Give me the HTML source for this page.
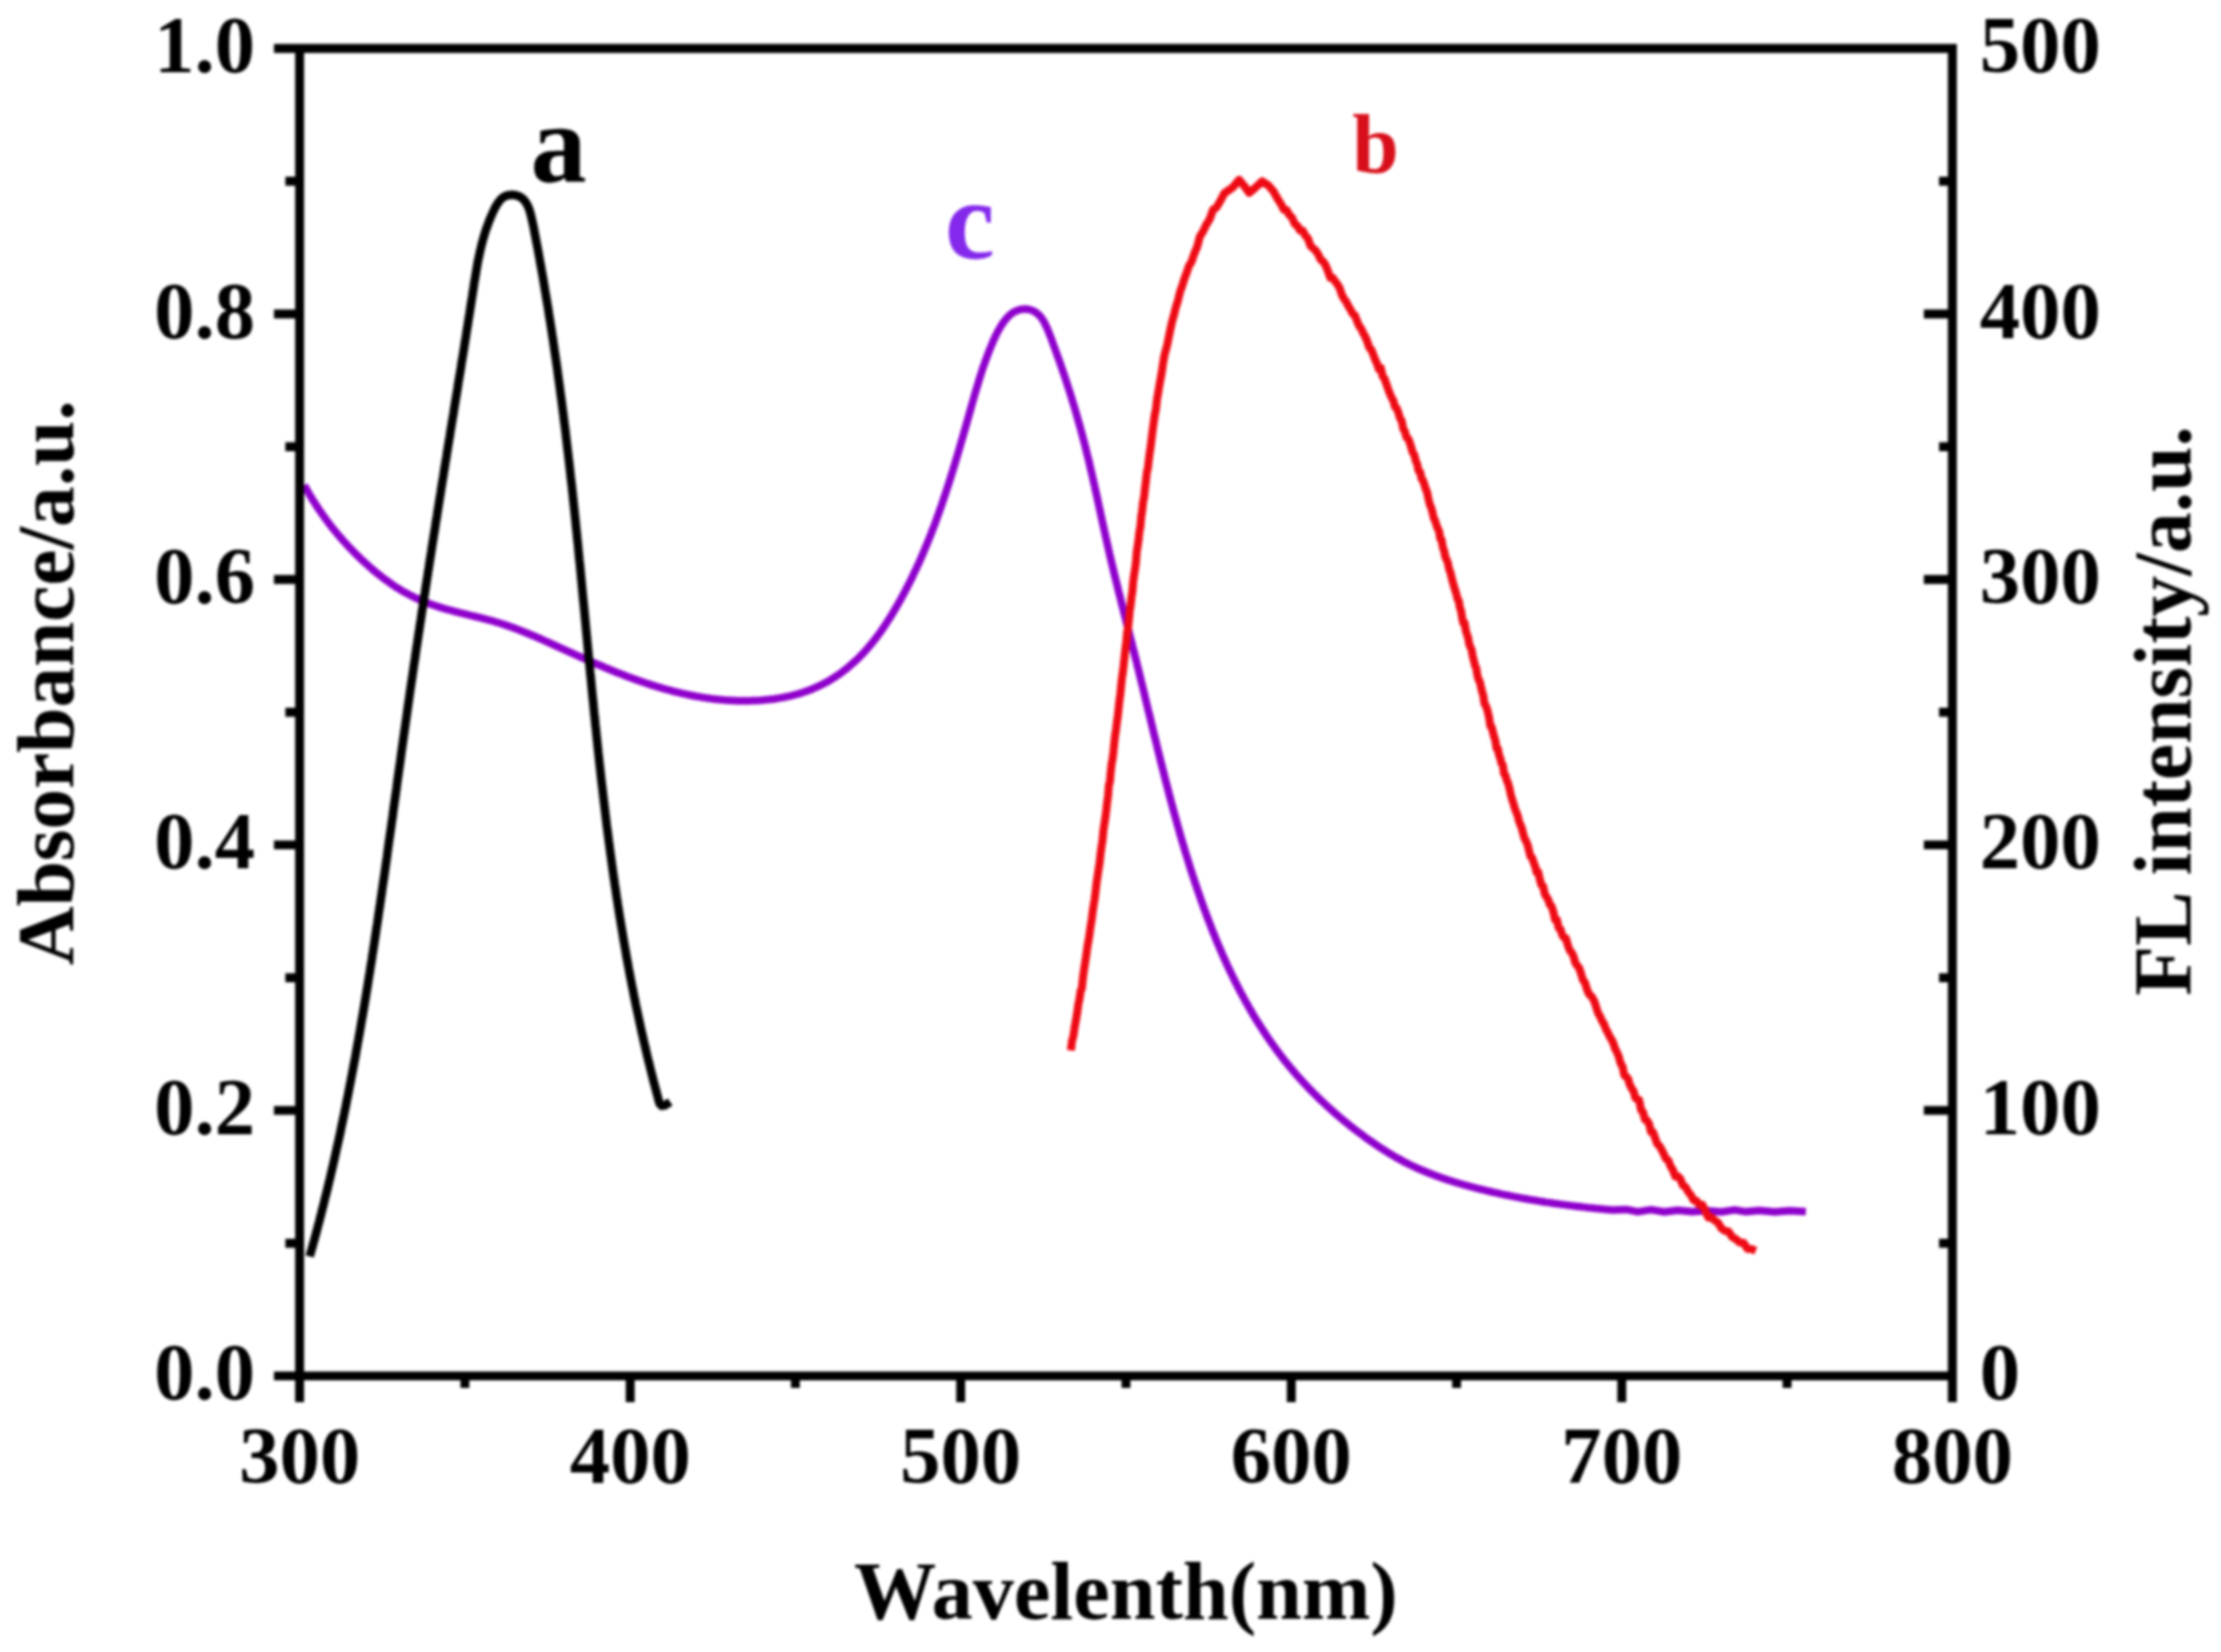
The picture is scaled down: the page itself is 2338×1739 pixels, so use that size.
<!DOCTYPE html>
<html lang="en">
<head>
<meta charset="utf-8">
<title>Absorbance and FL intensity spectra</title>
<style>
html,body{margin:0;padding:0;background:#fff;}
body{width:2338px;height:1739px;overflow:hidden;}
svg text{font-kerning:normal;}
</style>
</head>
<body>
<svg width="2338" height="1739" viewBox="0 0 2338 1739" style="display:block;filter:blur(1.6px)">
<rect width="2338" height="1739" fill="#fff"/>
<g id="plot">
<path d="M320.3,510.8 L321.6,513.0 L322.8,515.3 L324.1,517.6 L325.4,519.8 L326.7,522.0 L328.1,524.3 L329.4,526.5 L330.8,528.7 L332.2,530.8 L333.6,533.0 L335.0,535.2 L336.4,537.3 L337.9,539.4 L339.4,541.5 L340.9,543.7 L342.4,545.7 L343.9,547.8 L345.5,549.9 L347.0,551.9 L348.6,554.0 L350.2,556.0 L351.8,558.0 L353.5,560.0 L355.1,562.0 L356.8,564.0 L358.5,565.9 L360.2,567.9 L361.9,569.8 L363.6,571.7 L365.3,573.6 L367.1,575.5 L368.9,577.4 L370.7,579.2 L372.5,581.1 L374.3,582.9 L376.1,584.7 L378.0,586.5 L379.9,588.3 L381.7,590.1 L383.6,591.8 L385.6,593.6 L387.5,595.3 L389.4,597.0 L391.4,598.7 L393.3,600.4 L395.3,602.1 L397.3,603.7 L399.4,605.3 L401.4,606.9 L403.4,608.5 L405.5,610.1 L407.6,611.6 L409.7,613.1 L411.8,614.6 L413.9,616.1 L416.1,617.5 L418.3,618.9 L420.4,620.2 L422.7,621.6 L424.9,622.9 L427.1,624.1 L429.4,625.3 L431.7,626.5 L434.0,627.7 L436.3,628.8 L438.6,629.9 L441.0,631.0 L443.3,632.0 L445.7,633.0 L448.1,633.9 L450.5,634.9 L452.9,635.8 L455.3,636.7 L457.8,637.5 L460.2,638.3 L462.7,639.1 L465.1,639.9 L467.6,640.6 L470.1,641.3 L472.6,642.0 L475.1,642.7 L477.6,643.4 L480.1,644.0 L482.6,644.7 L485.1,645.3 L487.6,645.9 L490.2,646.5 L492.7,647.2 L495.2,647.8 L497.7,648.4 L500.2,649.0 L502.7,649.6 L505.3,650.2 L507.8,650.9 L510.3,651.5 L512.8,652.2 L515.3,652.8 L517.8,653.5 L520.2,654.2 L522.7,655.0 L525.2,655.7 L527.7,656.5 L530.1,657.3 L532.5,658.1 L535.0,658.9 L537.4,659.8 L539.8,660.6 L542.2,661.5 L544.7,662.4 L547.1,663.4 L549.5,664.3 L551.8,665.3 L554.2,666.2 L556.6,667.2 L559.0,668.2 L561.4,669.2 L563.7,670.2 L566.1,671.3 L568.5,672.3 L570.8,673.3 L573.2,674.4 L575.5,675.5 L577.9,676.5 L580.3,677.6 L582.6,678.7 L585.0,679.7 L587.3,680.8 L589.7,681.9 L592.0,683.0 L594.4,684.0 L596.7,685.1 L599.1,686.2 L601.5,687.2 L603.8,688.3 L606.2,689.4 L608.5,690.4 L610.9,691.5 L613.3,692.5 L615.6,693.6 L618.0,694.6 L620.4,695.7 L622.8,696.7 L625.1,697.8 L627.5,698.8 L629.9,699.8 L632.3,700.8 L634.7,701.8 L637.0,702.8 L639.4,703.8 L641.8,704.8 L644.2,705.8 L646.6,706.8 L649.0,707.7 L651.4,708.7 L653.8,709.6 L656.2,710.5 L658.7,711.5 L661.1,712.4 L663.5,713.3 L665.9,714.2 L668.3,715.1 L670.8,715.9 L673.2,716.8 L675.6,717.6 L678.1,718.5 L680.5,719.3 L683.0,720.1 L685.4,720.9 L687.9,721.7 L690.3,722.4 L692.8,723.2 L695.3,723.9 L697.7,724.6 L700.2,725.3 L702.7,726.0 L705.2,726.7 L707.7,727.4 L710.1,728.0 L712.6,728.6 L715.1,729.2 L717.7,729.8 L720.2,730.4 L722.7,730.9 L725.2,731.5 L727.7,732.0 L730.3,732.5 L732.8,733.0 L735.3,733.4 L737.9,733.8 L740.4,734.3 L743.0,734.6 L745.5,735.0 L748.1,735.4 L750.7,735.7 L753.2,736.0 L755.8,736.3 L758.4,736.5 L761.0,736.8 L763.5,737.0 L766.1,737.2 L768.7,737.3 L771.3,737.5 L773.9,737.6 L776.5,737.7 L779.1,737.7 L781.7,737.8 L784.2,737.8 L786.8,737.8 L789.4,737.7 L792.0,737.6 L794.6,737.5 L797.2,737.4 L799.8,737.3 L802.4,737.1 L805.0,736.8 L807.6,736.6 L810.2,736.3 L812.7,736.0 L815.3,735.7 L817.9,735.3 L820.4,734.9 L823.0,734.4 L825.5,734.0 L828.1,733.4 L830.6,732.9 L833.1,732.3 L835.6,731.7 L838.1,731.0 L840.6,730.3 L843.1,729.6 L845.5,728.8 L847.9,727.9 L850.4,727.1 L852.8,726.2 L855.2,725.2 L857.5,724.2 L859.9,723.2 L862.2,722.1 L864.5,721.0 L866.8,719.8 L869.1,718.6 L871.3,717.4 L873.6,716.1 L875.8,714.7 L878.0,713.3 L880.1,711.9 L882.3,710.5 L884.4,709.0 L886.5,707.5 L888.5,705.9 L890.6,704.3 L892.6,702.7 L894.5,701.0 L896.5,699.3 L898.4,697.6 L900.3,695.9 L902.2,694.1 L904.1,692.3 L905.9,690.4 L907.7,688.6 L909.5,686.7 L911.2,684.8 L912.9,682.9 L914.6,680.9 L916.3,678.9 L917.9,677.0 L919.5,674.9 L921.1,672.9 L922.7,670.9 L924.2,668.8 L925.8,666.7 L927.3,664.6 L928.8,662.5 L930.2,660.3 L931.7,658.2 L933.1,656.0 L934.5,653.9 L935.9,651.7 L937.3,649.5 L938.6,647.3 L940.0,645.1 L941.3,642.8 L942.6,640.6 L943.9,638.4 L945.2,636.1 L946.5,633.9 L947.8,631.6 L949.0,629.3 L950.2,627.1 L951.5,624.8 L952.7,622.5 L953.9,620.2 L955.1,617.9 L956.2,615.6 L957.4,613.3 L958.6,611.0 L959.7,608.7 L960.8,606.4 L961.9,604.1 L963.0,601.7 L964.1,599.4 L965.2,597.1 L966.3,594.7 L967.4,592.4 L968.4,590.0 L969.5,587.6 L970.5,585.3 L971.5,582.9 L972.5,580.5 L973.5,578.2 L974.5,575.8 L975.5,573.4 L976.5,571.0 L977.4,568.6 L978.4,566.2 L979.4,563.8 L980.3,561.4 L981.2,559.0 L982.1,556.6 L983.1,554.2 L984.0,551.8 L984.9,549.3 L985.8,546.9 L986.6,544.5 L987.5,542.1 L988.4,539.6 L989.3,537.2 L990.1,534.7 L991.0,532.3 L991.8,529.9 L992.6,527.4 L993.5,525.0 L994.3,522.5 L995.1,520.1 L995.9,517.6 L996.7,515.1 L997.5,512.7 L998.3,510.2 L999.1,507.8 L999.9,505.3 L1000.7,502.8 L1001.4,500.3 L1002.2,497.9 L1003.0,495.4 L1003.7,492.9 L1004.5,490.5 L1005.2,488.0 L1006.0,485.5 L1006.7,483.0 L1007.5,480.5 L1008.2,478.1 L1008.9,475.6 L1009.7,473.1 L1010.4,470.6 L1011.1,468.1 L1011.8,465.7 L1012.5,463.2 L1013.3,460.7 L1014.0,458.2 L1014.7,455.7 L1015.4,453.2 L1016.1,450.8 L1016.8,448.3 L1017.5,445.8 L1018.2,443.3 L1018.9,440.8 L1019.6,438.3 L1020.3,435.9 L1021.0,433.4 L1021.7,430.9 L1022.4,428.4 L1023.1,425.9 L1023.8,423.5 L1024.5,421.0 L1025.2,418.5 L1025.9,416.0 L1026.6,413.6 L1027.3,411.1 L1028.1,408.6 L1028.8,406.2 L1029.6,403.7 L1030.3,401.2 L1031.1,398.8 L1031.8,396.3 L1032.6,393.9 L1033.4,391.4 L1034.2,389.0 L1035.0,386.5 L1035.9,384.1 L1036.7,381.7 L1037.6,379.2 L1038.5,376.8 L1039.4,374.4 L1040.3,372.0 L1041.2,369.5 L1042.2,367.1 L1043.2,364.7 L1044.2,362.3 L1045.2,359.9 L1046.2,357.5 L1047.3,355.2 L1048.4,352.8 L1049.6,350.5 L1050.8,348.2 L1052.1,345.9 L1053.4,343.7 L1054.8,341.5 L1056.3,339.3 L1057.9,337.2 L1059.5,335.2 L1061.3,333.3 L1063.2,331.5 L1065.2,329.8 L1067.4,328.4 L1069.7,327.3 L1072.2,326.4 L1074.7,325.7 L1077.2,325.4 L1079.7,325.3 L1082.2,325.6 L1084.7,326.2 L1087.0,327.0 L1089.2,328.1 L1091.1,329.4 L1093.0,330.9 L1094.6,332.6 L1096.2,334.5 L1097.6,336.5 L1098.9,338.6 L1100.1,340.9 L1101.2,343.2 L1102.3,345.6 L1103.3,348.0 L1104.3,350.5 L1105.3,353.0 L1106.2,355.5 L1107.2,358.0 L1108.1,360.5 L1109.0,363.0 L1109.9,365.5 L1110.8,368.0 L1111.7,370.5 L1112.6,372.9 L1113.5,375.4 L1114.4,377.9 L1115.3,380.3 L1116.2,382.8 L1117.0,385.3 L1117.9,387.7 L1118.7,390.2 L1119.5,392.7 L1120.4,395.1 L1121.2,397.6 L1122.0,400.0 L1122.8,402.5 L1123.6,405.0 L1124.4,407.4 L1125.2,409.9 L1126.0,412.3 L1126.8,414.8 L1127.5,417.2 L1128.3,419.7 L1129.0,422.1 L1129.8,424.6 L1130.5,427.0 L1131.3,429.5 L1132.0,432.0 L1132.7,434.4 L1133.4,436.9 L1134.1,439.3 L1134.8,441.8 L1135.5,444.3 L1136.2,446.7 L1136.9,449.2 L1137.6,451.7 L1138.2,454.1 L1138.9,456.6 L1139.6,459.1 L1140.2,461.5 L1140.9,464.0 L1141.5,466.5 L1142.2,469.0 L1142.8,471.5 L1143.4,474.0 L1144.0,476.5 L1144.6,479.0 L1145.3,481.5 L1145.9,484.0 L1146.5,486.5 L1147.1,489.0 L1147.6,491.5 L1148.2,494.0 L1148.8,496.5 L1149.4,499.0 L1150.0,501.6 L1150.6,504.1 L1151.1,506.6 L1151.7,509.1 L1152.3,511.7 L1152.8,514.2 L1153.4,516.7 L1153.9,519.3 L1154.5,521.8 L1155.1,524.3 L1155.6,526.9 L1156.2,529.4 L1156.7,531.9 L1157.3,534.5 L1157.8,537.0 L1158.4,539.5 L1158.9,542.1 L1159.5,544.6 L1160.0,547.1 L1160.6,549.7 L1161.1,552.2 L1161.7,554.8 L1162.3,557.3 L1162.8,559.8 L1163.4,562.4 L1163.9,564.9 L1164.5,567.4 L1165.1,570.0 L1165.6,572.5 L1166.2,575.0 L1166.8,577.6 L1167.4,580.1 L1167.9,582.6 L1168.5,585.1 L1169.1,587.7 L1169.7,590.2 L1170.3,592.7 L1170.9,595.2 L1171.5,597.7 L1172.1,600.2 L1172.7,602.8 L1173.3,605.3 L1173.9,607.8 L1174.5,610.3 L1175.2,612.8 L1175.8,615.3 L1176.4,617.8 L1177.0,620.3 L1177.6,622.8 L1178.3,625.3 L1178.9,627.8 L1179.5,630.3 L1180.2,632.8 L1180.8,635.3 L1181.4,637.8 L1182.1,640.3 L1182.7,642.8 L1183.3,645.3 L1184.0,647.8 L1184.6,650.3 L1185.2,652.8 L1185.9,655.3 L1186.5,657.8 L1187.1,660.3 L1187.8,662.8 L1188.4,665.3 L1189.0,667.8 L1189.7,670.3 L1190.3,672.8 L1191.0,675.3 L1191.6,677.8 L1192.2,680.3 L1192.8,682.8 L1193.5,685.3 L1194.1,687.8 L1194.7,690.3 L1195.4,692.8 L1196.0,695.3 L1196.6,697.8 L1197.2,700.3 L1197.9,702.8 L1198.5,705.3 L1199.1,707.8 L1199.7,710.3 L1200.3,712.8 L1200.9,715.3 L1201.5,717.8 L1202.2,720.4 L1202.8,722.9 L1203.4,725.4 L1204.0,727.9 L1204.6,730.4 L1205.2,732.9 L1205.8,735.4 L1206.4,737.9 L1207.0,740.4 L1207.6,742.9 L1208.2,745.5 L1208.8,748.0 L1209.5,750.5 L1210.1,753.0 L1210.7,755.5 L1211.3,758.0 L1211.9,760.5 L1212.5,763.0 L1213.1,765.5 L1213.7,768.1 L1214.3,770.6 L1214.9,773.1 L1215.5,775.6 L1216.2,778.1 L1216.8,780.6 L1217.4,783.1 L1218.0,785.6 L1218.6,788.1 L1219.2,790.6 L1219.8,793.2 L1220.5,795.7 L1221.1,798.2 L1221.7,800.7 L1222.3,803.2 L1223.0,805.7 L1223.6,808.2 L1224.2,810.7 L1224.9,813.2 L1225.5,815.7 L1226.1,818.2 L1226.8,820.7 L1227.4,823.2 L1228.1,825.7 L1228.7,828.2 L1229.4,830.7 L1230.0,833.2 L1230.7,835.7 L1231.3,838.2 L1232.0,840.7 L1232.6,843.2 L1233.3,845.7 L1234.0,848.2 L1234.7,850.7 L1235.3,853.2 L1236.0,855.7 L1236.7,858.2 L1237.4,860.7 L1238.1,863.2 L1238.8,865.7 L1239.5,868.2 L1240.2,870.7 L1240.9,873.1 L1241.6,875.6 L1242.3,878.1 L1243.0,880.6 L1243.7,883.1 L1244.4,885.5 L1245.2,888.0 L1245.9,890.5 L1246.7,893.0 L1247.4,895.5 L1248.1,897.9 L1248.9,900.4 L1249.7,902.9 L1250.4,905.3 L1251.2,907.8 L1252.0,910.3 L1252.7,912.7 L1253.5,915.2 L1254.3,917.7 L1255.1,920.1 L1255.9,922.6 L1256.7,925.0 L1257.5,927.5 L1258.3,929.9 L1259.2,932.4 L1260.0,934.8 L1260.8,937.3 L1261.7,939.7 L1262.5,942.2 L1263.4,944.6 L1264.2,947.1 L1265.1,949.5 L1265.9,951.9 L1266.8,954.4 L1267.7,956.8 L1268.6,959.2 L1269.5,961.6 L1270.4,964.1 L1271.3,966.5 L1272.2,968.9 L1273.2,971.3 L1274.1,973.7 L1275.0,976.2 L1276.0,978.6 L1276.9,981.0 L1277.9,983.4 L1278.9,985.8 L1279.8,988.2 L1280.8,990.6 L1281.8,992.9 L1282.8,995.3 L1283.8,997.7 L1284.9,1000.1 L1285.9,1002.5 L1286.9,1004.8 L1288.0,1007.2 L1289.0,1009.6 L1290.1,1011.9 L1291.2,1014.3 L1292.2,1016.6 L1293.3,1019.0 L1294.4,1021.3 L1295.5,1023.6 L1296.7,1026.0 L1297.8,1028.3 L1298.9,1030.6 L1300.1,1032.9 L1301.2,1035.2 L1302.4,1037.5 L1303.6,1039.8 L1304.8,1042.1 L1305.9,1044.4 L1307.2,1046.7 L1308.4,1048.9 L1309.6,1051.2 L1310.8,1053.4 L1312.1,1055.7 L1313.4,1057.9 L1314.6,1060.2 L1315.9,1062.4 L1317.2,1064.6 L1318.5,1066.9 L1319.8,1069.1 L1321.1,1071.3 L1322.5,1073.5 L1323.8,1075.7 L1325.2,1077.8 L1326.6,1080.0 L1328.0,1082.2 L1329.4,1084.3 L1330.8,1086.5 L1332.2,1088.6 L1333.6,1090.8 L1335.1,1092.9 L1336.5,1095.0 L1338.0,1097.1 L1339.5,1099.2 L1341.0,1101.3 L1342.5,1103.4 L1344.0,1105.5 L1345.6,1107.6 L1347.1,1109.6 L1348.7,1111.7 L1350.2,1113.7 L1351.8,1115.7 L1353.4,1117.7 L1355.1,1119.8 L1356.7,1121.8 L1358.3,1123.8 L1360.0,1125.7 L1361.7,1127.7 L1363.3,1129.7 L1365.0,1131.6 L1366.8,1133.6 L1368.5,1135.5 L1370.2,1137.4 L1372.0,1139.3 L1373.7,1141.2 L1375.5,1143.1 L1377.3,1145.0 L1379.1,1146.9 L1380.9,1148.7 L1382.7,1150.6 L1384.6,1152.4 L1386.4,1154.2 L1388.3,1156.1 L1390.1,1157.9 L1392.0,1159.6 L1393.9,1161.4 L1395.8,1163.2 L1397.7,1165.0 L1399.7,1166.7 L1401.6,1168.4 L1403.5,1170.2 L1405.5,1171.9 L1407.4,1173.6 L1409.4,1175.3 L1411.4,1177.0 L1413.4,1178.6 L1415.4,1180.3 L1417.4,1181.9 L1419.4,1183.5 L1421.4,1185.2 L1423.5,1186.8 L1425.5,1188.4 L1427.6,1189.9 L1429.6,1191.5 L1431.7,1193.1 L1433.8,1194.6 L1435.8,1196.1 L1437.9,1197.7 L1440.0,1199.2 L1442.1,1200.7 L1444.2,1202.1 L1446.3,1203.6 L1448.5,1205.1 L1450.6,1206.5 L1452.7,1207.9 L1454.9,1209.3 L1457.1,1210.7 L1459.2,1212.1 L1461.4,1213.4 L1463.6,1214.8 L1465.8,1216.1 L1468.0,1217.4 L1470.2,1218.7 L1472.5,1219.9 L1474.7,1221.1 L1477.0,1222.4 L1479.2,1223.6 L1481.5,1224.7 L1483.8,1225.9 L1486.1,1227.0 L1488.5,1228.1 L1490.8,1229.2 L1493.2,1230.2 L1495.5,1231.3 L1497.9,1232.3 L1500.3,1233.3 L1502.7,1234.2 L1505.1,1235.2 L1507.5,1236.1 L1509.9,1237.1 L1512.3,1238.0 L1514.8,1238.8 L1517.2,1239.7 L1519.7,1240.5 L1522.1,1241.4 L1524.6,1242.2 L1527.1,1243.0 L1529.5,1243.8 L1532.0,1244.5 L1534.5,1245.3 L1537.0,1246.0 L1539.5,1246.8 L1542.0,1247.5 L1544.5,1248.2 L1547.0,1248.8 L1549.5,1249.5 L1552.0,1250.2 L1554.6,1250.8 L1557.1,1251.5 L1559.6,1252.1 L1562.1,1252.7 L1564.6,1253.3 L1567.2,1253.9 L1569.7,1254.5 L1572.2,1255.1 L1574.7,1255.6 L1577.3,1256.2 L1579.8,1256.8 L1582.3,1257.3 L1584.8,1257.8 L1587.4,1258.3 L1589.9,1258.9 L1592.4,1259.4 L1594.9,1259.9 L1597.5,1260.3 L1600.0,1260.8 L1602.5,1261.3 L1605.1,1261.8 L1607.6,1262.2 L1610.1,1262.7 L1612.7,1263.1 L1615.2,1263.5 L1617.8,1263.9 L1620.3,1264.4 L1622.8,1264.8 L1625.4,1265.2 L1627.9,1265.6 L1630.5,1265.9 L1633.0,1266.3 L1635.6,1266.7 L1638.1,1267.0 L1640.7,1267.4 L1643.2,1267.7 L1645.8,1268.1 L1648.3,1268.4 L1650.9,1268.8 L1653.4,1269.1 L1656.0,1269.4 L1658.6,1269.7 L1661.1,1270.0 L1663.7,1270.3 L1666.3,1270.6 L1668.8,1270.9 L1671.4,1271.2 L1674.0,1271.4 L1676.6,1271.7 L1679.1,1272.0 L1681.7,1272.2 L1684.3,1272.5 L1686.9,1272.7 L1689.5,1273.0 L1692.1,1273.2 L1694.7,1273.4 L1697.3,1273.7 L1712.0,1273.2 L1724.0,1275.6 L1738.0,1273.4 L1752.0,1275.8 L1766.0,1274.0 L1781.0,1275.4 L1797.0,1274.6 L1812.0,1275.8 L1826.0,1273.6 L1838.0,1275.6 L1852.0,1274.2 L1868.0,1275.8 L1884.0,1274.4 L1901.0,1275.4" fill="none" stroke="#8f00cc" stroke-width="8" stroke-linejoin="round" stroke-linecap="butt"/>
<path d="M1127.3,1105.7 L1128.6,1095.0 L1129.9,1090.9 L1131.2,1082.0 L1132.5,1074.5 L1133.8,1067.1 L1135.1,1057.3 L1136.3,1051.8 L1137.5,1043.4 L1138.8,1040.7 L1140.0,1029.4 L1141.1,1021.0 L1142.3,1013.4 L1143.5,1005.3 L1144.6,997.2 L1145.8,990.3 L1146.9,983.7 L1148.0,975.2 L1149.1,968.9 L1150.2,959.9 L1151.3,952.5 L1152.3,946.6 L1153.4,937.8 L1154.4,928.8 L1155.5,921.6 L1156.5,914.8 L1157.5,908.8 L1158.6,898.4 L1159.6,890.8 L1160.6,884.6 L1161.5,874.7 L1162.5,867.7 L1163.5,861.5 L1164.5,853.4 L1165.4,845.2 L1166.4,838.2 L1167.3,826.3 L1168.3,823.3 L1169.2,813.2 L1170.1,804.7 L1171.1,799.3 L1172.0,792.2 L1172.9,783.1 L1173.8,774.7 L1174.8,768.3 L1175.7,760.5 L1176.6,754.6 L1177.5,746.1 L1178.4,737.8 L1179.3,731.2 L1180.2,721.9 L1181.1,713.4 L1182.0,707.5 L1182.9,699.8 L1183.8,691.2 L1184.7,682.8 L1185.6,676.3 L1186.5,665.4 L1187.4,661.5 L1188.3,653.6 L1189.2,643.3 L1190.1,637.7 L1191.1,628.7 L1192.0,623.1 L1192.9,612.0 L1193.8,605.7 L1194.7,599.9 L1195.7,592.8 L1196.6,581.1 L1197.5,575.4 L1198.5,568.7 L1199.4,559.9 L1200.4,554.8 L1201.4,543.7 L1202.3,537.9 L1203.3,528.5 L1204.3,523.7 L1205.3,514.3 L1206.3,506.2 L1207.3,496.9 L1208.3,493.2 L1209.3,484.4 L1210.3,476.7 L1211.4,469.4 L1212.4,460.8 L1213.5,451.9 L1214.6,443.9 L1215.7,436.2 L1216.8,431.1 L1218.0,420.0 L1219.2,413.4 L1220.4,406.1 L1221.7,399.0 L1223.0,391.8 L1224.4,382.0 L1225.8,373.8 L1227.3,368.3 L1228.9,362.2 L1230.5,354.1 L1232.2,345.9 L1234.0,337.8 L1235.9,331.1 L1237.9,323.0 L1239.9,316.9 L1242.1,307.6 L1244.3,301.4 L1246.7,293.8 L1249.1,287.3 L1251.7,279.7 L1254.4,275.4 L1257.2,267.0 L1260.2,259.9 L1263.2,248.7 L1266.4,243.7 L1269.8,236.5 L1273.3,231.0 L1276.9,220.8 L1280.7,218.2 L1284.7,211.4 L1288.8,203.5 L1298.0,197.0 L1304.4,189.3 L1310.0,196.0 L1315.0,203.0 L1321.0,198.0 L1328.6,190.9 L1335.0,195.0 L1340.7,201.5 L1342.4,204.9 L1345.4,210.0 L1348.4,214.7 L1351.4,220.7 L1354.3,220.9 L1357.2,226.3 L1360.1,229.1 L1362.9,235.6 L1365.8,237.8 L1368.6,242.7 L1371.3,242.7 L1374.1,248.0 L1376.8,251.0 L1379.5,258.7 L1382.2,261.3 L1384.9,263.7 L1387.5,267.5 L1390.1,273.0 L1392.7,275.2 L1395.2,278.9 L1397.8,285.2 L1400.3,292.5 L1402.7,292.2 L1405.2,295.8 L1407.6,299.0 L1410.1,302.9 L1412.4,310.0 L1414.8,314.7 L1417.1,317.6 L1419.5,322.3 L1421.8,326.1 L1424.0,330.4 L1426.3,332.0 L1428.5,337.9 L1430.7,343.1 L1432.9,345.9 L1435.1,350.7 L1437.2,354.5 L1439.3,359.5 L1441.4,365.8 L1443.5,368.1 L1445.5,372.8 L1447.6,378.7 L1449.6,382.8 L1451.6,388.8 L1453.5,387.1 L1455.5,396.2 L1457.4,398.5 L1459.3,403.9 L1461.2,409.4 L1463.0,414.2 L1464.9,418.6 L1466.7,421.6 L1468.5,428.3 L1470.3,429.8 L1472.0,434.4 L1473.8,440.4 L1475.5,442.7 L1477.2,451.5 L1478.9,454.2 L1480.6,460.5 L1482.2,461.5 L1483.9,465.4 L1485.5,470.8 L1487.1,476.2 L1488.7,478.6 L1490.2,484.6 L1491.8,488.5 L1493.3,495.7 L1494.9,496.6 L1496.4,503.8 L1497.9,505.7 L1499.3,509.7 L1500.8,514.7 L1502.3,518.4 L1503.7,525.1 L1505.1,531.1 L1506.6,534.3 L1508.0,539.6 L1509.4,545.8 L1510.8,548.2 L1512.1,552.7 L1513.5,556.5 L1514.9,559.0 L1516.2,567.4 L1517.5,567.9 L1518.9,576.4 L1520.2,579.9 L1521.5,586.4 L1522.8,589.1 L1524.1,592.5 L1525.4,599.0 L1526.7,602.1 L1528.0,607.4 L1529.2,612.4 L1530.5,616.7 L1531.8,621.3 L1533.0,624.9 L1534.3,630.5 L1535.5,632.0 L1536.8,639.8 L1538.0,642.8 L1539.3,651.2 L1540.5,656.1 L1541.7,655.5 L1543.0,663.5 L1544.2,667.8 L1545.4,670.9 L1546.6,678.1 L1547.9,681.2 L1549.1,683.7 L1550.3,690.8 L1551.5,695.6 L1552.8,700.7 L1554.0,703.2 L1555.2,710.8 L1556.5,715.6 L1557.7,717.3 L1558.9,722.7 L1560.2,728.3 L1561.4,732.1 L1562.6,740.5 L1563.9,742.7 L1565.1,745.4 L1566.4,750.4 L1567.7,756.2 L1568.9,764.6 L1570.2,765.3 L1571.5,770.4 L1572.8,775.7 L1574.1,779.4 L1575.4,787.8 L1576.7,787.9 L1578.0,794.6 L1579.3,798.2 L1580.6,803.6 L1582.0,805.3 L1583.3,814.7 L1584.7,816.2 L1586.0,821.1 L1587.4,824.1 L1588.8,829.1 L1590.2,835.7 L1591.6,841.0 L1593.0,845.2 L1594.5,850.5 L1595.9,854.3 L1597.4,857.8 L1598.8,863.6 L1600.3,867.8 L1601.8,871.2 L1603.3,877.1 L1604.8,882.5 L1606.4,885.4 L1607.9,888.9 L1609.5,895.2 L1611.1,901.6 L1612.7,902.7 L1614.3,907.4 L1616.0,911.8 L1617.6,918.5 L1619.3,918.0 L1621.0,926.0 L1622.7,931.8 L1624.4,933.0 L1626.2,941.2 L1627.9,944.1 L1629.7,946.8 L1631.5,952.4 L1633.3,954.0 L1635.2,959.9 L1637.0,968.2 L1638.9,968.2 L1640.8,976.9 L1642.7,978.2 L1644.6,984.3 L1646.5,987.1 L1648.5,987.8 L1650.4,994.9 L1652.4,1000.4 L1654.4,1002.6 L1656.4,1006.7 L1658.4,1013.8 L1660.4,1016.5 L1662.4,1019.1 L1664.4,1025.1 L1666.4,1031.9 L1668.4,1034.1 L1670.4,1040.7 L1672.4,1046.0 L1674.4,1048.0 L1676.5,1050.5 L1678.5,1054.6 L1680.5,1061.0 L1682.5,1066.8 L1684.5,1070.2 L1686.5,1075.0 L1688.5,1077.8 L1690.5,1083.4 L1692.4,1086.6 L1694.4,1091.2 L1696.4,1094.1 L1698.3,1098.1 L1700.3,1104.3 L1702.2,1107.7 L1704.1,1112.4 L1706.0,1119.5 L1708.0,1122.7 L1709.9,1132.0 L1711.8,1133.3 L1713.7,1135.3 L1715.7,1142.0 L1717.6,1145.7 L1719.6,1148.5 L1721.6,1155.8 L1723.5,1157.2 L1725.5,1158.0 L1727.6,1168.6 L1729.6,1170.7 L1731.6,1178.4 L1733.7,1179.4 L1735.8,1182.8 L1738.0,1191.5 L1740.1,1191.6 L1742.3,1197.9 L1744.5,1204.2 L1746.8,1206.2 L1749.1,1210.1 L1751.4,1214.6 L1753.7,1219.9 L1756.1,1221.3 L1758.6,1227.7 L1761.1,1231.7 L1763.6,1238.5 L1766.2,1238.1 L1768.9,1241.1 L1771.5,1247.6 L1774.3,1249.7 L1777.1,1254.5 L1779.9,1258.0 L1782.9,1263.4 L1785.8,1264.1 L1788.9,1268.6 L1792.0,1268.2 L1795.1,1274.4 L1798.4,1281.7 L1801.7,1281.5 L1805.1,1284.7 L1808.6,1287.1 L1812.2,1293.1 L1815.8,1295.6 L1819.5,1296.4 L1823.4,1302.2 L1827.3,1304.4 L1831.3,1307.9 L1835.4,1308.3 L1839.6,1314.6 L1843.9,1314.9 L1848.3,1316.6" fill="none" stroke="#ee0a14" stroke-width="8.4" stroke-linejoin="round" stroke-linecap="butt"/>
<path d="M326.0,1322.6 L327.1,1318.5 L328.3,1314.4 L329.4,1310.3 L330.6,1306.2 L331.7,1302.1 L332.8,1298.0 L333.9,1293.8 L335.0,1289.7 L336.1,1285.6 L337.1,1281.5 L338.2,1277.4 L339.2,1273.2 L340.3,1269.1 L341.3,1265.0 L342.3,1260.8 L343.4,1256.7 L344.4,1252.6 L345.4,1248.4 L346.4,1244.3 L347.4,1240.2 L348.3,1236.0 L349.3,1231.9 L350.3,1227.7 L351.2,1223.6 L352.2,1219.4 L353.1,1215.3 L354.0,1211.1 L354.9,1207.0 L355.9,1202.8 L356.8,1198.7 L357.7,1194.5 L358.6,1190.4 L359.4,1186.2 L360.3,1182.0 L361.2,1177.9 L362.1,1173.7 L362.9,1169.5 L363.8,1165.4 L364.6,1161.2 L365.4,1157.0 L366.3,1152.9 L367.1,1148.7 L367.9,1144.5 L368.7,1140.3 L369.5,1136.2 L370.3,1132.0 L371.1,1127.8 L371.9,1123.6 L372.7,1119.4 L373.5,1115.3 L374.3,1111.1 L375.0,1106.9 L375.8,1102.7 L376.5,1098.5 L377.3,1094.3 L378.0,1090.1 L378.8,1085.9 L379.5,1081.8 L380.2,1077.6 L380.9,1073.4 L381.7,1069.2 L382.4,1065.0 L383.1,1060.8 L383.8,1056.6 L384.5,1052.4 L385.2,1048.2 L385.9,1044.0 L386.6,1039.8 L387.3,1035.6 L387.9,1031.4 L388.6,1027.2 L389.3,1023.0 L389.9,1018.8 L390.6,1014.6 L391.3,1010.4 L391.9,1006.1 L392.6,1001.9 L393.2,997.7 L393.9,993.5 L394.5,989.3 L395.2,985.1 L395.8,980.9 L396.4,976.7 L397.1,972.5 L397.7,968.3 L398.3,964.0 L398.9,959.8 L399.6,955.6 L400.2,951.4 L400.8,947.2 L401.4,943.0 L402.0,938.8 L402.6,934.5 L403.2,930.3 L403.9,926.1 L404.5,921.9 L405.1,917.7 L405.7,913.5 L406.3,909.2 L406.9,905.0 L407.5,900.8 L408.0,896.6 L408.6,892.4 L409.2,888.1 L409.8,883.9 L410.4,879.7 L411.0,875.5 L411.6,871.3 L412.2,867.0 L412.8,862.8 L413.4,858.6 L413.9,854.4 L414.5,850.2 L415.1,846.0 L415.7,841.7 L416.3,837.5 L416.9,833.3 L417.5,829.1 L418.0,824.9 L418.6,820.6 L419.2,816.4 L419.8,812.2 L420.4,808.0 L421.0,803.8 L421.6,799.5 L422.1,795.3 L422.7,791.1 L423.3,786.9 L423.9,782.7 L424.5,778.5 L425.1,774.2 L425.7,770.0 L426.3,765.8 L426.9,761.6 L427.5,757.4 L428.1,753.2 L428.7,749.0 L429.3,744.7 L429.9,740.5 L430.5,736.3 L431.1,732.1 L431.7,727.9 L432.3,723.7 L432.9,719.5 L433.6,715.3 L434.2,711.0 L434.8,706.8 L435.4,702.6 L436.0,698.4 L436.7,694.2 L437.3,690.0 L437.9,685.8 L438.5,681.6 L439.2,677.4 L439.8,673.2 L440.4,669.0 L441.1,664.8 L441.7,660.6 L442.3,656.4 L443.0,652.2 L443.6,647.9 L444.2,643.7 L444.9,639.5 L445.5,635.3 L446.2,631.1 L446.8,626.9 L447.5,622.7 L448.1,618.5 L448.8,614.3 L449.4,610.1 L450.1,605.9 L450.7,601.7 L451.4,597.5 L452.0,593.3 L452.7,589.1 L453.3,584.9 L454.0,580.7 L454.6,576.5 L455.3,572.3 L456.0,568.1 L456.6,563.9 L457.3,559.7 L458.0,555.5 L458.6,551.3 L459.3,547.1 L460.0,542.9 L460.6,538.7 L461.3,534.5 L462.0,530.3 L462.6,526.1 L463.3,521.9 L464.0,517.7 L464.6,513.5 L465.3,509.3 L466.0,505.1 L466.7,500.9 L467.3,496.7 L468.0,492.5 L468.7,488.3 L469.4,484.1 L470.1,479.9 L470.7,475.7 L471.4,471.5 L472.1,467.3 L472.8,463.1 L473.5,458.9 L474.1,454.7 L474.8,450.5 L475.5,446.3 L476.2,442.1 L476.9,437.9 L477.6,433.7 L478.2,429.5 L478.9,425.3 L479.6,421.1 L480.3,416.9 L481.0,412.7 L481.7,408.5 L482.3,404.3 L483.0,400.1 L483.7,395.9 L484.4,391.7 L485.1,387.5 L485.7,383.3 L486.4,379.1 L487.1,374.9 L487.8,370.7 L488.5,366.5 L489.1,362.3 L489.8,358.1 L490.5,353.9 L491.1,349.7 L491.8,345.5 L492.5,341.3 L493.1,337.1 L493.8,332.9 L494.5,328.7 L495.1,324.5 L495.8,320.3 L496.4,316.1 L497.1,311.9 L497.7,307.7 L498.4,303.5 L499.0,299.3 L499.7,295.1 L500.4,290.9 L501.1,286.7 L501.8,282.5 L502.5,278.3 L503.3,274.1 L504.2,270.0 L505.1,265.8 L506.0,261.7 L507.0,257.6 L508.1,253.4 L509.3,249.3 L510.5,245.2 L511.8,241.2 L513.3,237.1 L514.8,233.0 L516.4,229.0 L518.2,225.0 L520.0,221.0 L522.0,217.1 L524.3,213.4 L526.8,210.2 L529.8,207.6 L533.3,205.9 L537.3,205.1 L541.5,205.2 L545.6,206.3 L549.1,208.2 L552.0,210.9 L554.3,214.3 L556.2,218.1 L557.7,222.3 L558.9,226.7 L559.9,231.1 L560.9,235.4 L561.8,239.7 L562.6,243.9 L563.4,248.1 L564.2,252.2 L565.0,256.4 L565.8,260.5 L566.6,264.7 L567.3,268.8 L568.1,273.0 L568.8,277.2 L569.6,281.3 L570.3,285.5 L571.1,289.7 L571.8,293.8 L572.5,298.0 L573.2,302.2 L573.9,306.4 L574.6,310.6 L575.3,314.8 L576.0,318.9 L576.7,323.1 L577.4,327.3 L578.0,331.5 L578.7,335.7 L579.4,339.9 L580.0,344.1 L580.7,348.3 L581.3,352.5 L582.0,356.7 L582.6,360.9 L583.2,365.1 L583.8,369.3 L584.4,373.6 L585.1,377.8 L585.7,382.0 L586.3,386.2 L586.9,390.4 L587.4,394.6 L588.0,398.9 L588.6,403.1 L589.2,407.3 L589.7,411.5 L590.3,415.8 L590.9,420.0 L591.4,424.2 L592.0,428.4 L592.5,432.7 L593.1,436.9 L593.6,441.1 L594.1,445.4 L594.7,449.6 L595.2,453.8 L595.7,458.1 L596.2,462.3 L596.7,466.5 L597.2,470.8 L597.7,475.0 L598.2,479.2 L598.7,483.5 L599.2,487.7 L599.7,492.0 L600.2,496.2 L600.6,500.4 L601.1,504.7 L601.6,508.9 L602.1,513.1 L602.5,517.4 L603.0,521.6 L603.4,525.9 L603.9,530.1 L604.3,534.3 L604.8,538.6 L605.2,542.8 L605.7,547.1 L606.1,551.3 L606.5,555.6 L607.0,559.8 L607.4,564.0 L607.8,568.3 L608.3,572.5 L608.7,576.8 L609.1,581.0 L609.5,585.2 L609.9,589.5 L610.4,593.7 L610.8,598.0 L611.2,602.2 L611.6,606.4 L612.0,610.7 L612.4,614.9 L612.8,619.2 L613.2,623.4 L613.6,627.6 L614.0,631.9 L614.5,636.1 L614.9,640.4 L615.3,644.6 L615.7,648.8 L616.1,653.1 L616.5,657.3 L616.9,661.6 L617.3,665.8 L617.7,670.0 L618.1,674.3 L618.5,678.5 L618.9,682.7 L619.3,687.0 L619.7,691.2 L620.1,695.4 L620.5,699.7 L620.9,703.9 L621.3,708.2 L621.8,712.4 L622.2,716.6 L622.6,720.9 L623.0,725.1 L623.4,729.3 L623.8,733.6 L624.3,737.8 L624.7,742.0 L625.1,746.3 L625.5,750.5 L626.0,754.7 L626.4,759.0 L626.8,763.2 L627.3,767.4 L627.7,771.6 L628.1,775.9 L628.6,780.1 L629.0,784.3 L629.5,788.6 L629.9,792.8 L630.4,797.0 L630.8,801.2 L631.3,805.5 L631.8,809.7 L632.2,813.9 L632.7,818.1 L633.2,822.4 L633.7,826.6 L634.2,830.8 L634.7,835.0 L635.2,839.2 L635.7,843.5 L636.2,847.7 L636.7,851.9 L637.2,856.1 L637.7,860.3 L638.2,864.5 L638.7,868.8 L639.3,873.0 L639.8,877.2 L640.4,881.4 L640.9,885.6 L641.5,889.8 L642.0,894.0 L642.6,898.3 L643.2,902.5 L643.7,906.7 L644.3,910.9 L644.9,915.1 L645.5,919.3 L646.1,923.5 L646.7,927.7 L647.3,931.9 L648.0,936.1 L648.6,940.3 L649.2,944.5 L649.9,948.7 L650.5,952.9 L651.2,957.1 L651.8,961.3 L652.5,965.5 L653.2,969.7 L653.9,973.9 L654.6,978.1 L655.3,982.3 L656.0,986.5 L656.7,990.7 L657.4,994.8 L658.2,999.0 L658.9,1003.2 L659.6,1007.4 L660.4,1011.6 L661.2,1015.8 L661.9,1020.0 L662.7,1024.1 L663.5,1028.3 L664.3,1032.5 L665.1,1036.7 L666.0,1040.9 L666.8,1045.0 L667.6,1049.2 L668.5,1053.4 L669.3,1057.6 L670.2,1061.7 L671.1,1065.9 L672.0,1070.1 L672.9,1074.2 L673.8,1078.4 L674.7,1082.6 L675.6,1086.7 L676.6,1090.9 L677.5,1095.1 L678.5,1099.2 L679.5,1103.4 L680.4,1107.5 L681.4,1111.7 L682.4,1115.9 L683.5,1120.0 L684.5,1124.2 L685.5,1128.3 L686.6,1132.5 L687.6,1136.6 L688.7,1140.8 L689.8,1144.9 L690.9,1149.0 L692.0,1153.2 L693.1,1157.3 L694.3,1161.5 L696.5,1164.0 L700.0,1163.6 L705.5,1160.0" fill="none" stroke="#000" stroke-width="9" stroke-linejoin="round" stroke-linecap="butt"/>
<path d="M288.4,51.0 H2059.8999999999996 M288.4,1448.4 H2059.8999999999996 M315.4,46.3 V1476.1000000000001 M2055.2,46.3 V1476.1000000000001 M300.4,1308.7 H315.4 M288.4,1168.9 H315.4 M300.4,1029.2 H315.4 M288.4,889.4 H315.4 M300.4,749.7 H315.4 M288.4,610.0 H315.4 M300.4,470.2 H315.4 M288.4,330.5 H315.4 M300.4,190.7 H315.4 M2041.1999999999998,1308.7 H2055.2 M2025.1999999999998,1168.9 H2055.2 M2041.1999999999998,1029.2 H2055.2 M2025.1999999999998,889.4 H2055.2 M2041.1999999999998,749.7 H2055.2 M2025.1999999999998,610.0 H2055.2 M2041.1999999999998,470.2 H2055.2 M2025.1999999999998,330.5 H2055.2 M2041.1999999999998,190.7 H2055.2 M489.4,1448.4 V1461.1000000000001 M663.4,1448.4 V1476.1000000000001 M837.3,1448.4 V1461.1000000000001 M1011.3,1448.4 V1476.1000000000001 M1185.3,1448.4 V1461.1000000000001 M1359.3,1448.4 V1476.1000000000001 M1533.3,1448.4 V1461.1000000000001 M1707.2,1448.4 V1476.1000000000001 M1881.2,1448.4 V1461.1000000000001" fill="none" stroke="#000" stroke-width="9.4" stroke-linecap="butt"/>
</g>
<g font-family="'Liberation Serif', 'Times New Roman', serif" font-weight="bold" font-size="85" fill="#000">
<text x="268.5" y="1473.4" text-anchor="end">0.0</text>
<text x="268.5" y="1193.9" text-anchor="end">0.2</text>
<text x="268.5" y="914.4" text-anchor="end">0.4</text>
<text x="268.5" y="635.0" text-anchor="end">0.6</text>
<text x="268.5" y="355.5" text-anchor="end">0.8</text>
<text x="268.5" y="76.0" text-anchor="end">1.0</text>
<text x="2084" y="1473.4" text-anchor="start">0</text>
<text x="2084" y="1193.9" text-anchor="start">100</text>
<text x="2084" y="914.4" text-anchor="start">200</text>
<text x="2084" y="635.0" text-anchor="start">300</text>
<text x="2084" y="355.5" text-anchor="start">400</text>
<text x="2084" y="76.0" text-anchor="start">500</text>
<text x="315.4" y="1561" text-anchor="middle">300</text>
<text x="663.4" y="1561" text-anchor="middle">400</text>
<text x="1011.3" y="1561" text-anchor="middle">500</text>
<text x="1359.3" y="1561" text-anchor="middle">600</text>
<text x="1707.2" y="1561" text-anchor="middle">700</text>
<text x="2055.2" y="1561" text-anchor="middle">800</text>
<text x="1185.2" y="1703.7" font-size="86.6" text-anchor="middle">Wavelenth(nm)</text>
<text transform="translate(76.5,718.7) rotate(-90)" font-size="85.6" text-anchor="middle">Absorbance/a.u.</text>
<text transform="translate(2306.3,748.3) rotate(-90)" font-size="86" text-anchor="middle">FL intensity/a.u.</text>
</g>
<text x="588" y="191" font-family="'Liberation Serif', 'Times New Roman', serif" font-weight="bold" font-size="118" fill="#000" text-anchor="middle">a</text>
<text x="1448" y="181.5" font-family="'Liberation Serif', 'Times New Roman', serif" font-weight="bold" font-size="88" fill="#d80f1a" text-anchor="middle">b</text>
<text x="1021" y="272" font-family="'Liberation Serif', 'Times New Roman', serif" font-weight="bold" font-size="118" fill="#8429ec" text-anchor="middle">c</text>
</svg>
</body>
</html>
